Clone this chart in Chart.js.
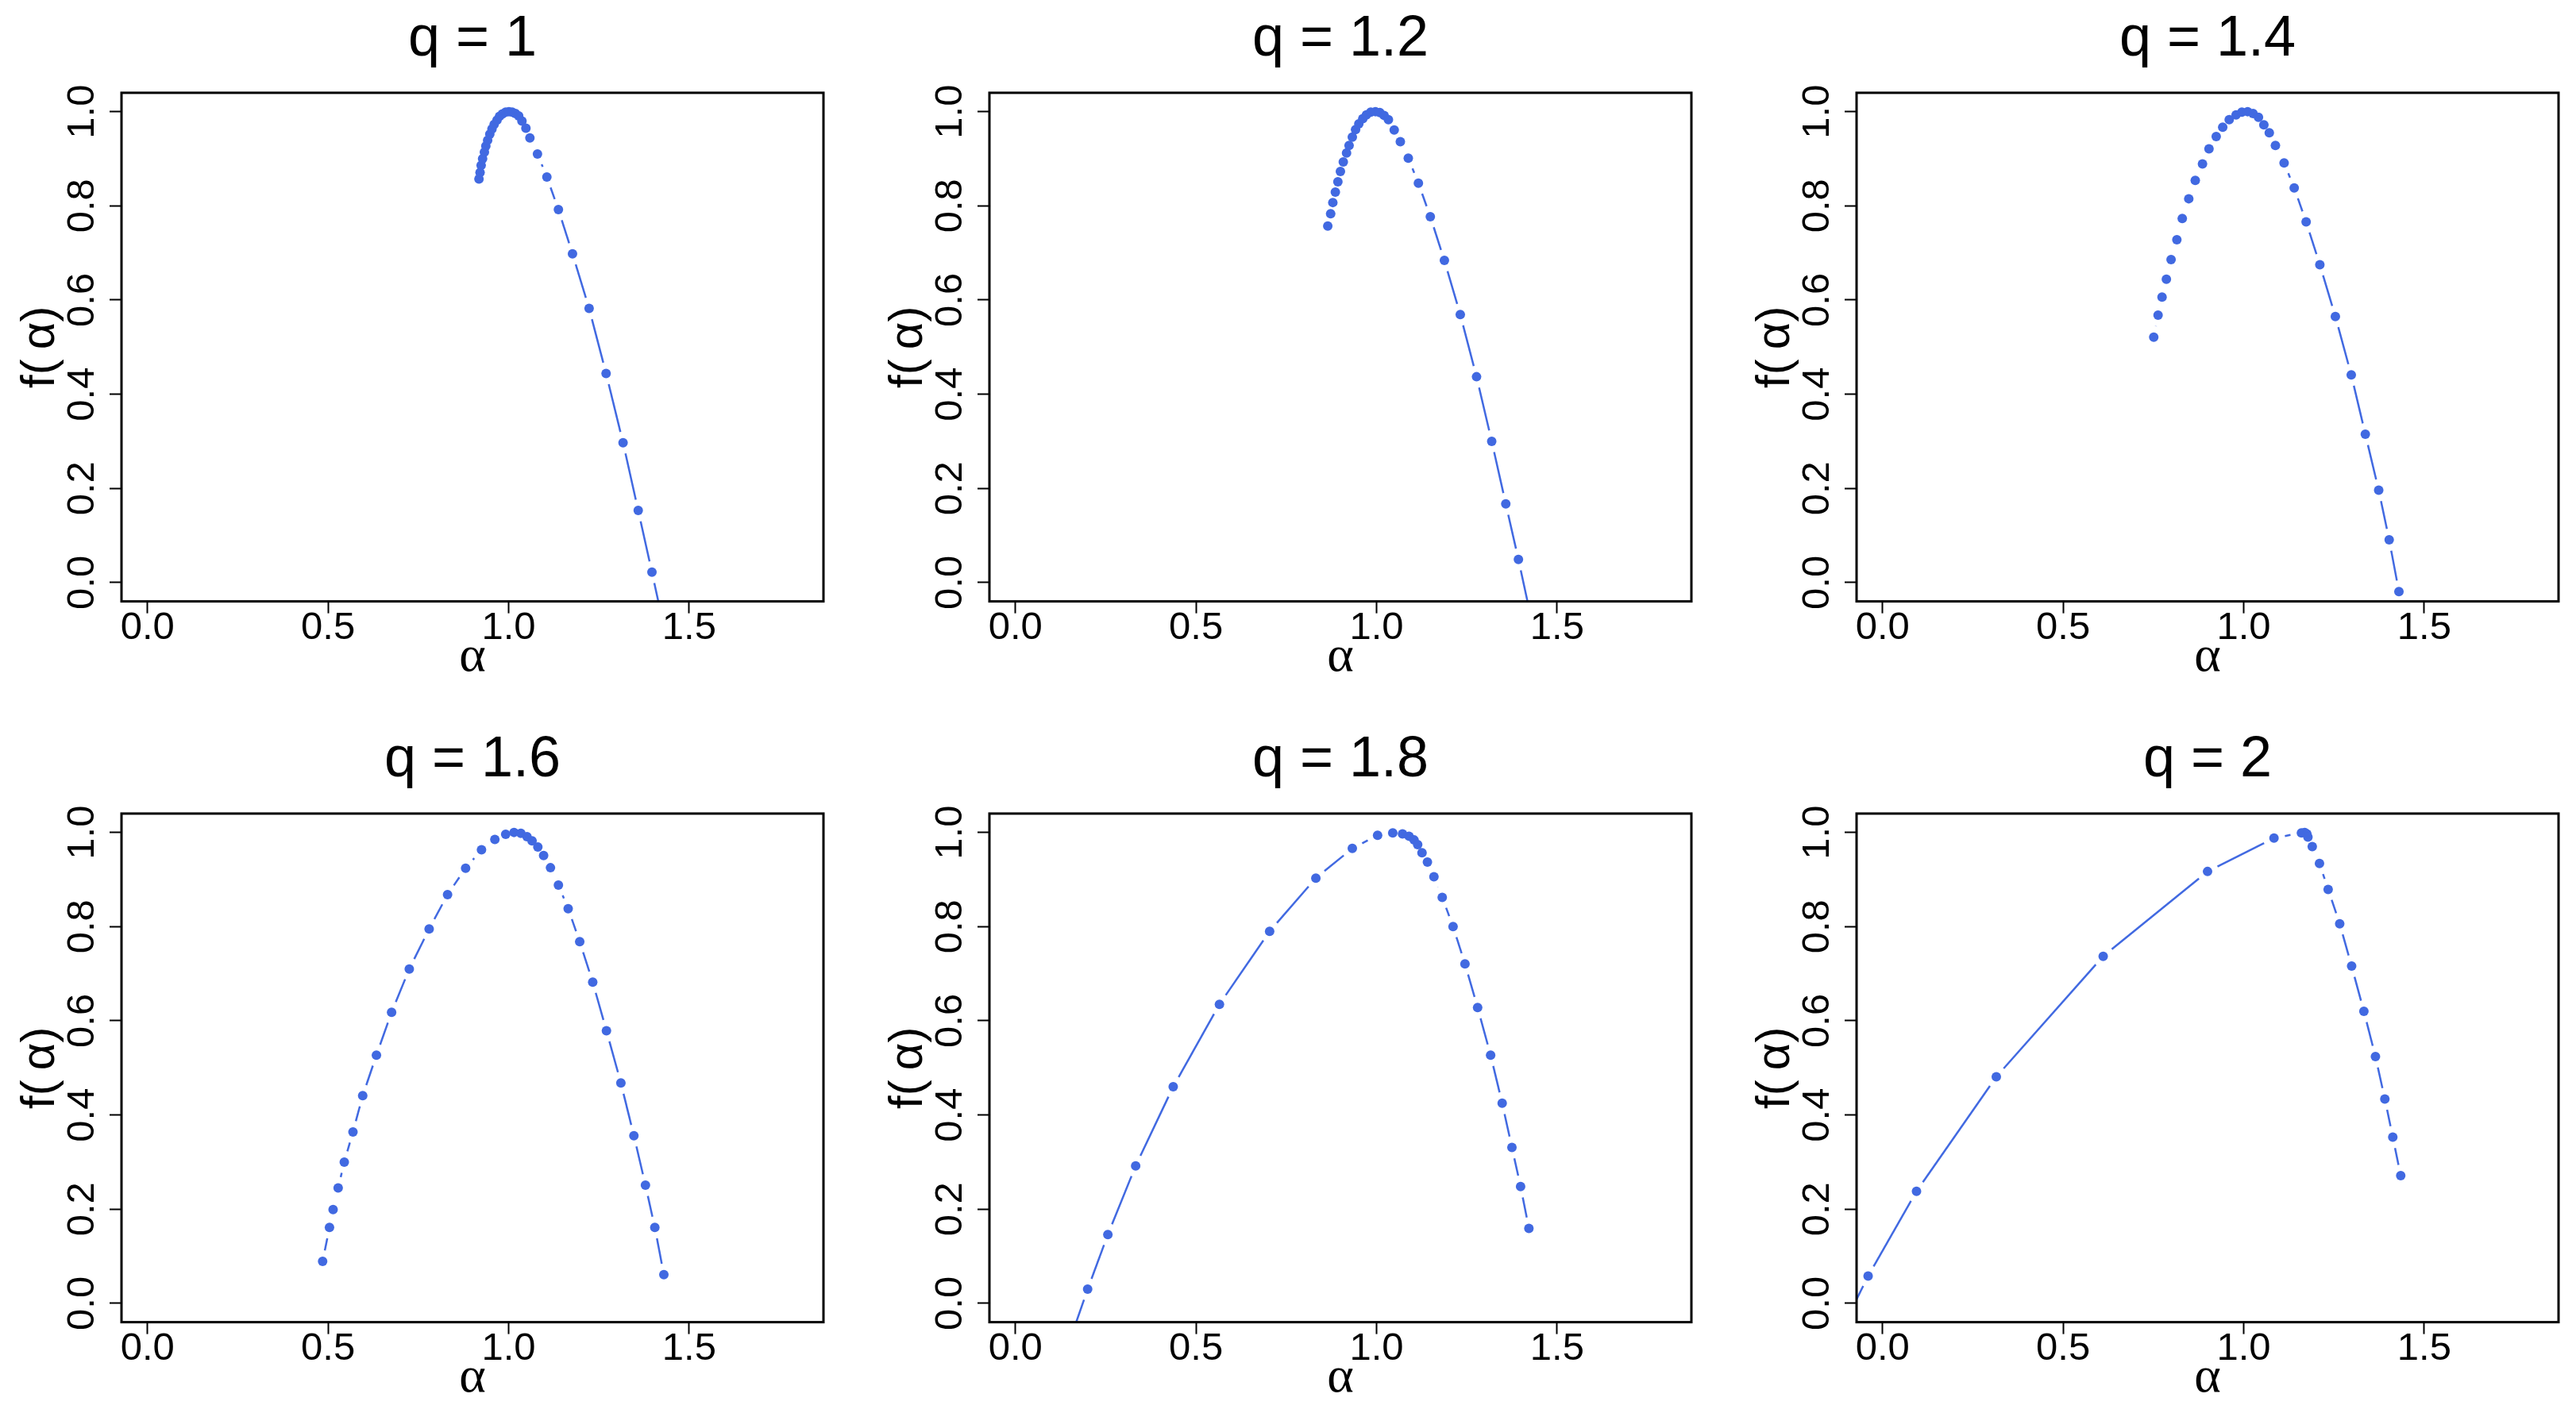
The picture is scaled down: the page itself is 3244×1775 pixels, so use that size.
<!DOCTYPE html>
<html>
<head>
<meta charset="utf-8">
<title>f(alpha) spectra</title>
<script src="https://cdn.jsdelivr.net/npm/chart.js@4.4.0/dist/chart.umd.min.js"></script>
<style>
  html, body { margin: 0; padding: 0; background: #fff; overflow: hidden; }
  body { width: 3244px; height: 1775px; position: relative; }
  canvas { position: absolute; }
</style>
</head>
<body>
<canvas id="p0" width="1090" height="887" style="left:1px;top:0px"></canvas>
<canvas id="p1" width="1090" height="887" style="left:1094px;top:0px"></canvas>
<canvas id="p2" width="1090" height="887" style="left:2186px;top:0px"></canvas>
<canvas id="p3" width="1090" height="887" style="left:1px;top:908px"></canvas>
<canvas id="p4" width="1090" height="887" style="left:1094px;top:908px"></canvas>
<canvas id="p5" width="1090" height="887" style="left:2186px;top:908px"></canvas>
<script>
// q of each panel
const qValues = [1, 1.2, 1.4, 1.6, 1.8, 2];

// alpha and f(alpha)
const alpha_q1 = [0.918, 0.921, 0.924, 0.928, 0.933, 0.937, 0.942, 0.948, 0.954, 0.960, 0.968, 0.975, 0.983, 0.992, 1.001, 1.010, 1.019, 1.028, 1.037, 1.048, 1.059, 1.080, 1.106, 1.138, 1.177, 1.223, 1.270, 1.317, 1.359, 1.397, 1.426];
const f_q1     = [0.857, 0.871, 0.886, 0.900, 0.914, 0.927, 0.939, 0.952, 0.963, 0.973, 0.982, 0.990, 0.995, 0.999, 1.000, 0.999, 0.996, 0.991, 0.980, 0.965, 0.944, 0.910, 0.861, 0.792, 0.698, 0.582, 0.444, 0.297, 0.153, 0.022, -0.080];

const alpha_q12 = [0.865, 0.873, 0.879, 0.886, 0.893, 0.900, 0.908, 0.917, 0.924, 0.933, 0.942, 0.951, 0.962, 0.972, 0.984, 0.997, 1.009, 1.021, 1.033, 1.049, 1.066, 1.088, 1.116, 1.149, 1.188, 1.232, 1.277, 1.319, 1.358, 1.393, 1.428];
const f_q12     = [0.757, 0.783, 0.807, 0.829, 0.851, 0.873, 0.893, 0.912, 0.928, 0.946, 0.962, 0.974, 0.985, 0.993, 0.999, 1.000, 0.998, 0.992, 0.983, 0.961, 0.936, 0.901, 0.848, 0.777, 0.684, 0.569, 0.437, 0.300, 0.167, 0.049, -0.075];

const alpha_q14 = [0.751, 0.763, 0.774, 0.786, 0.799, 0.815, 0.830, 0.848, 0.866, 0.886, 0.904, 0.924, 0.942, 0.960, 0.979, 0.995, 1.011, 1.026, 1.041, 1.056, 1.071, 1.088, 1.112, 1.140, 1.173, 1.211, 1.254, 1.298, 1.337, 1.374, 1.403, 1.430];
const f_q14     = [0.521, 0.568, 0.606, 0.644, 0.686, 0.728, 0.773, 0.815, 0.854, 0.889, 0.921, 0.947, 0.967, 0.983, 0.993, 0.999, 1.000, 0.996, 0.988, 0.972, 0.955, 0.928, 0.891, 0.838, 0.766, 0.675, 0.565, 0.441, 0.315, 0.196, 0.091, -0.019];

const alpha_q16 = [0.485, 0.504, 0.514, 0.528, 0.545, 0.569, 0.596, 0.634, 0.676, 0.725, 0.780, 0.831, 0.881, 0.925, 0.962, 0.992, 1.015, 1.034, 1.051, 1.065, 1.081, 1.097, 1.116, 1.138, 1.165, 1.197, 1.233, 1.271, 1.311, 1.347, 1.379, 1.405, 1.430];
const f_q16     = [0.089, 0.161, 0.199, 0.245, 0.300, 0.364, 0.441, 0.527, 0.618, 0.710, 0.795, 0.868, 0.924, 0.963, 0.985, 0.996, 1.000, 0.998, 0.991, 0.982, 0.969, 0.951, 0.925, 0.888, 0.838, 0.768, 0.682, 0.579, 0.468, 0.356, 0.251, 0.161, 0.061];

const alpha_q18 = [0.148, 0.200, 0.256, 0.333, 0.437, 0.565, 0.704, 0.832, 0.933, 1.003, 1.045, 1.072, 1.090, 1.104, 1.114, 1.126, 1.141, 1.159, 1.182, 1.212, 1.245, 1.280, 1.316, 1.348, 1.375, 1.399, 1.422];
const f_q18     = [-0.085, 0.030, 0.146, 0.292, 0.460, 0.635, 0.790, 0.903, 0.966, 0.994, 0.999, 0.997, 0.992, 0.984, 0.974, 0.957, 0.937, 0.906, 0.862, 0.800, 0.721, 0.628, 0.527, 0.425, 0.331, 0.248, 0.159];

const alpha_q2 = [-0.100, -0.040, 0.094, 0.315, 0.611, 0.900, 1.084, 1.160, 1.169, 1.175, 1.178, 1.190, 1.210, 1.234, 1.266, 1.299, 1.333, 1.365, 1.391, 1.413, 1.435];
const f_q2     = [-0.035, 0.058, 0.238, 0.481, 0.737, 0.917, 0.988, 0.999, 1.000, 0.997, 0.990, 0.970, 0.934, 0.879, 0.806, 0.716, 0.620, 0.524, 0.434, 0.353, 0.271];

// axes
const xTicks = [0, 0.5, 1.0, 1.5];
const yTicks = [0, 0.2, 0.4, 0.6, 0.8, 1.0];
const xRange = [-0.072, 1.872];
const yRange = [-0.04, 1.04];

const alphas = [alpha_q1, alpha_q12, alpha_q14, alpha_q16, alpha_q18, alpha_q2];
const fs = [f_q1, f_q12, f_q14, f_q16, f_q18, f_q2];

const blue = '#4169E1';
const sans = 'Liberation Sans, Arial, sans-serif';
const serif = 'Liberation Serif, Times New Roman, serif';
const gap = 14; // like R type="b": line stops short of each point

// frame around the plot region, like R's box()
const boxPlugin = {
  id: 'box',
  afterDraw(chart) {
    const { ctx, chartArea: a } = chart;
    ctx.save();
    ctx.strokeStyle = '#000';
    ctx.lineWidth = 3;
    ctx.strokeRect(a.left, a.top, a.right - a.left, a.bottom - a.top);
    ctx.restore();
  }
};

const segLen = c => Math.hypot(c.p1.x - c.p0.x, c.p1.y - c.p0.y);

function makePanel(id, q, alpha, f) {
  return new Chart(document.getElementById(id), {
    type: 'scatter',
    data: {
      datasets: [{
        data: alpha.map((a, i) => ({ x: a, y: f[i] })),
        showLine: true,
        tension: 0,
        borderColor: blue,
        borderWidth: 2.5,
        backgroundColor: blue,
        pointBackgroundColor: blue,
        pointRadius: 6,
        pointBorderWidth: 0,
        segment: {
          borderDash: c => [Math.max(segLen(c) - 2 * gap, 0), 2 * gap],
          borderDashOffset: c => segLen(c) - gap
        }
      }]
    },
    options: {
      responsive: false,
      animation: false,
      devicePixelRatio: 1,
      layout: { padding: { left: 0, top: 0, right: 54, bottom: 0 } },
      plugins: {
        legend: { display: false },
        tooltip: { enabled: false },
        title: {
          display: true,
          text: 'q = ' + q,
          fullSize: false,
          color: '#000',
          font: { family: sans, size: 72, weight: 'normal', lineHeight: 1.2 },
          padding: { top: 7, bottom: 23.5 }
        }
      },
      scales: {
        x: {
          type: 'linear',
          min: xRange[0],
          max: xRange[1],
          afterBuildTicks: s => { s.ticks = xTicks.map(v => ({ value: v })); },
          afterFit: s => { s.height = 129.4; },
          border: { display: false },
          grid: { drawOnChartArea: false, drawTicks: true, tickLength: 15, tickWidth: 2, tickColor: '#000' },
          ticks: {
            autoSkip: false, maxRotation: 0, padding: -11, color: '#000',
            font: { family: sans, size: 49 },
            callback: v => v.toFixed(1)
          },
          title: {
            display: true, text: 'α', color: '#000',
            font: { family: serif, size: 64 },
            padding: { top: 0, bottom: 20 }
          }
        },
        y: {
          type: 'linear',
          min: yRange[0],
          max: yRange[1],
          afterBuildTicks: s => { s.ticks = yTicks.map(v => ({ value: v })); },
          afterFit: s => { s.width = 152; },
          border: { display: false },
          grid: { drawOnChartArea: false, drawTicks: true, tickLength: 15, tickWidth: 2, tickColor: '#000' },
          ticks: {
            autoSkip: false, minRotation: 90, maxRotation: 90, crossAlign: 'center',
            padding: -1, color: '#000',
            font: { family: sans, size: 49 },
            callback: v => v.toFixed(1)
          },
          title: {
            display: true, text: 'f(\u2009α)', color: '#000',
            font: { family: sans, size: 60 },
            padding: { top: 14, bottom: 0 }
          }
        }
      }
    },
    plugins: [boxPlugin]
  });
}

qValues.forEach((q, i) => makePanel('p' + i, q, alphas[i], fs[i]));
</script>
</body>
</html>
